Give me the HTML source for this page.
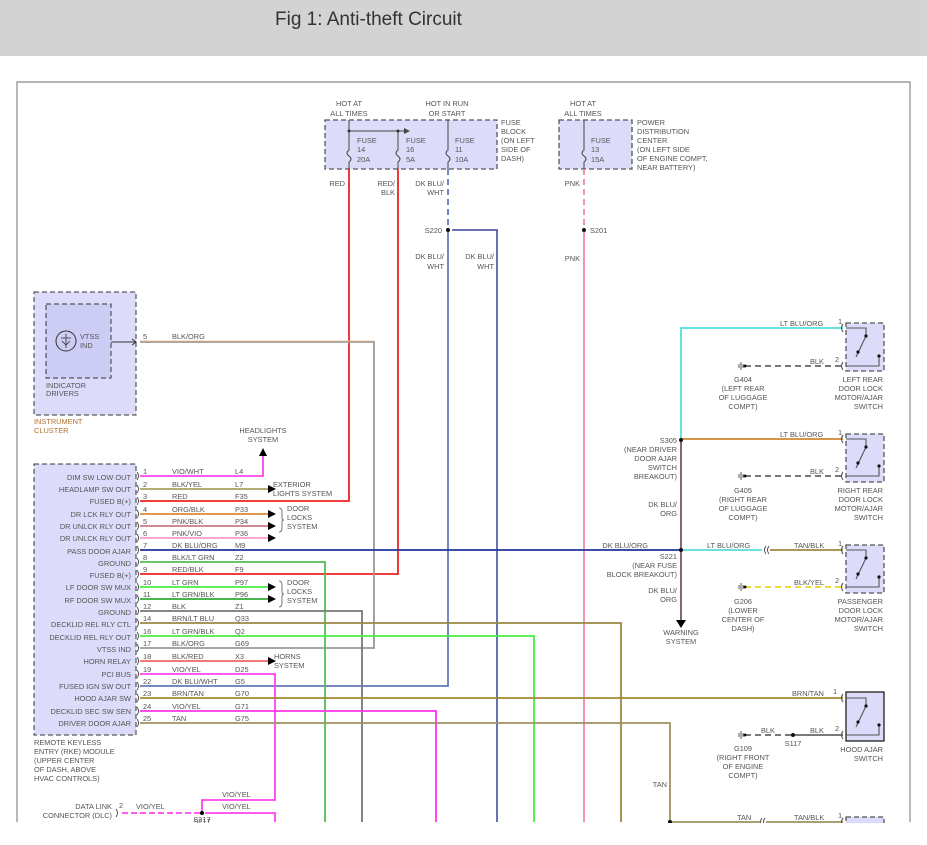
<!DOCTYPE html>
<html><head><meta charset="utf-8"><style>
html,body{margin:0;padding:0;background:#fff;width:927px;height:845px;overflow:hidden}
.hdr{position:absolute;left:0;top:0;width:927px;height:56px;background:#d3d3d3}
.hdr span{position:absolute;left:275px;top:9px;font:19px "Liberation Sans",sans-serif;color:#333}
svg{position:absolute;left:0;top:0}
text{font-family:"Liberation Sans",sans-serif;font-size:7.4px;fill:#555}
.r{text-anchor:end}.m{text-anchor:middle}
</style></head><body>
<div class="hdr"><span>Fig 1: Anti-theft Circuit</span></div>
<svg width="927" height="845" viewBox="0 0 927 845">
<path d="M17,822 V82 H910 V822" fill="none" stroke="#888" stroke-width="1.2"/>

<rect x="34" y="292" width="102" height="123" fill="#dcdcfa" stroke="#333" stroke-dasharray="5,3"/>
<rect x="46" y="304" width="65" height="74" fill="#ccccf5" stroke="#333" stroke-dasharray="5,3"/>
<circle cx="66" cy="341" r="10" fill="none" stroke="#333"/>
<path d="M61,338 H71 M66,334 V348 M62,341 L66,345 L70,341" stroke="#333" fill="none" stroke-width="0.8"/>
<text x="80" y="339">VTSS</text><text x="80" y="348">IND</text>
<text x="46" y="388">INDICATOR</text><text x="46" y="396">DRIVERS</text>
<text x="34" y="424" style="fill:#b07030">INSTRUMENT</text><text x="34" y="433" style="fill:#b07030">CLUSTER</text>
<path d="M111,342 H136" stroke="#333"/>

<rect x="34" y="464" width="102" height="271" fill="#dcdcfa" stroke="#333" stroke-dasharray="5,3"/>
<rect x="325" y="120" width="172" height="49" fill="#dcdcfa" stroke="#555" stroke-dasharray="5,3" stroke-width="1.3"/>
<rect x="559" y="120" width="73" height="49" fill="#dcdcfa" stroke="#555" stroke-dasharray="5,3" stroke-width="1.3"/>

<g stroke="#444" fill="none" stroke-width="1">
<path d="M349,120 V150 q-4,3 0,6 q4,3 0,6 V169"/>
<path d="M398,131 V150 q-4,3 0,6 q4,3 0,6 V169"/>
<path d="M448,120 V150 q-4,3 0,6 q4,3 0,6 V169"/>
<path d="M584,120 V150 q-4,3 0,6 q4,3 0,6 V169"/>
<path d="M349,131 H404"/>
</g>
<path d="M404,128 L410,131 L404,134Z" fill="#444"/>
<g fill="#333"><circle cx="349" cy="131" r="1.5"/><circle cx="398" cy="131" r="1.5"/></g>
<text x="357" y="143">FUSE</text><text x="357" y="152">14</text><text x="357" y="162">20A</text>
<text x="406" y="143">FUSE</text><text x="406" y="152">16</text><text x="406" y="162">5A</text>
<text x="455" y="143">FUSE</text><text x="455" y="152">11</text><text x="455" y="162">10A</text>
<text x="591" y="143">FUSE</text><text x="591" y="152">13</text><text x="591" y="162">15A</text>
<text x="349" y="106" class="m">HOT AT</text><text x="349" y="116" class="m">ALL TIMES</text>
<text x="447" y="106" class="m">HOT IN RUN</text><text x="447" y="116" class="m">OR START</text>
<text x="583" y="106" class="m">HOT AT</text><text x="583" y="116" class="m">ALL TIMES</text>
<text x="501" y="125">FUSE</text><text x="501" y="134">BLOCK</text><text x="501" y="143">(ON LEFT</text><text x="501" y="152">SIDE OF</text><text x="501" y="161">DASH)</text>
<text x="637" y="125">POWER</text><text x="637" y="134">DISTRIBUTION</text><text x="637" y="143">CENTER</text><text x="637" y="152">(ON LEFT SIDE</text><text x="637" y="161">OF ENGINE COMPT,</text><text x="637" y="170">NEAR BATTERY)</text>

<path d="M349,169 V501 H140" stroke="#ee2222" stroke-width="1.8" fill="none"/>
<path d="M398,169 V574 H140" stroke="#ee2222" stroke-width="1.8" fill="none"/>
<path d="M448,169 V230" stroke="#6677bb" stroke-width="1.8" stroke-dasharray="6,4"/>
<path d="M448,230 V686 H140" stroke="#6677bb" stroke-width="1.8" fill="none"/>
<path d="M452,230 H497 V822" stroke="#334499" stroke-width="1.5" fill="none"/>
<path d="M584,169 V230" stroke="#f08aa0" stroke-width="1.8" stroke-dasharray="6,4"/>
<path d="M584,230 V822" stroke="#f08aa0" stroke-width="1.8"/>
<g fill="#111"><circle cx="448" cy="230" r="2"/><circle cx="584" cy="230" r="2"/></g>
<text x="345" y="186" class="r">RED</text>
<text x="395" y="186" class="r">RED/</text><text x="395" y="195" class="r">BLK</text>
<text x="444" y="186" class="r">DK BLU/</text><text x="444" y="195" class="r">WHT</text>
<text x="580" y="186" class="r">PNK</text>
<text x="442" y="233" class="r">S220</text><text x="590" y="233">S201</text>
<text x="444" y="259" class="r">DK BLU/</text><text x="444" y="269" class="r">WHT</text>
<text x="494" y="259" class="r">DK BLU/</text><text x="494" y="269" class="r">WHT</text>
<text x="580" y="261" class="r">PNK</text>

<path d="M140,342 H374 V648 H140" stroke="#999" stroke-width="1.8" fill="none"/>
<path d="M140,341 H374" stroke="#f0b080" stroke-width="0.8"/>
<text x="143" y="339">5</text><text x="172" y="339">BLK/ORG</text>
<path d="M132,339 L136,342 L132,345" stroke="#333" fill="none"/>

<g fill="none" stroke-width="1.8">
<path d="M140,476 H263 V455" stroke="#ff44ee"/>
<path d="M140,489 H268" stroke="#aaa060"/>
<path d="M140,514 H268" stroke="#dd8833"/>
<path d="M140,526 H268" stroke="#cc7788"/>
<path d="M140,538 H268" stroke="#ff99cc"/>
<path d="M140,550 H681" stroke="#223399"/>
<path d="M140,562 H325 V822" stroke="#55bb55"/>
<path d="M140,587 H268" stroke="#44ee44"/>
<path d="M140,599 H268" stroke="#33aa33"/>
<path d="M140,611 H362 V822" stroke="#777"/>
<path d="M140,623 H621 V822" stroke="#998844"/>
<path d="M140,636 H534 V822" stroke="#44ee44"/>
<path d="M140,661 H268" stroke="#ee6666"/>
<path d="M140,674 H275 V800 H202 V813" stroke="#ff44ee"/>
<path d="M140,698 H843" stroke="#a08830"/>
<path d="M140,711 H436 V822" stroke="#ff33ee"/>
<path d="M140,723 H670 V822 H760" stroke="#a09060"/>
<path d="M205,813 H275 V822" stroke="#ff44ee"/>
<path d="M122,813 H200" stroke="#ff44ee" stroke-dasharray="6,3"/>
</g>
<g fill="#000">
<path d="M259,456 L263,448 L267,456Z"/>
<path d="M268,485 L276,489 L268,493Z"/>
<path d="M268,510 L276,514 L268,518Z"/><path d="M268,522 L276,526 L268,530Z"/><path d="M268,534 L276,538 L268,542Z"/>
<path d="M268,583 L276,587 L268,591Z"/><path d="M268,595 L276,599 L268,603Z"/>
<path d="M268,657 L276,661 L268,665Z"/>
<circle cx="202" cy="813" r="2"/>
</g>
<g stroke="#555" fill="none" stroke-width="0.8">
<path d="M279,508 q3,0 3,4 v6 q0,2 2,2 q-2,0 -2,2 v6 q0,4 -3,4"/>
<path d="M279,581 q3,0 3,4 v7 q0,2 2,2 q-2,0 -2,2 v7 q0,4 -3,4"/>
</g>
<text x="263" y="433" class="m">HEADLIGHTS</text><text x="263" y="442" class="m">SYSTEM</text>
<text x="273" y="487">EXTERIOR</text><text x="273" y="496">LIGHTS SYSTEM</text>
<text x="287" y="511">DOOR</text><text x="287" y="520">LOCKS</text><text x="287" y="529">SYSTEM</text>
<text x="287" y="585">DOOR</text><text x="287" y="594">LOCKS</text><text x="287" y="603">SYSTEM</text>
<text x="274" y="659">HORNS</text><text x="274" y="668">SYSTEM</text>

<g>
<text x="131" y="480" class="r">DIM SW LOW OUT</text>
<text x="131" y="492" class="r">HEADLAMP SW OUT</text>
<text x="131" y="504" class="r">FUSED B(+)</text>
<text x="131" y="517" class="r">DR LCK RLY OUT</text>
<text x="131" y="529" class="r">DR UNLCK RLY OUT</text>
<text x="131" y="541" class="r">DR UNLCK RLY OUT</text>
<text x="131" y="554" class="r">PASS DOOR AJAR</text>
<text x="131" y="566" class="r">GROUND</text>
<text x="131" y="578" class="r">FUSED B(+)</text>
<text x="131" y="590" class="r">LF DOOR SW MUX</text>
<text x="131" y="603" class="r">RF DOOR SW MUX</text>
<text x="131" y="615" class="r">GROUND</text>
<text x="131" y="627" class="r">DECKLID REL RLY CTL</text>
<text x="131" y="640" class="r">DECKLID REL RLY OUT</text>
<text x="131" y="652" class="r">VTSS IND</text>
<text x="131" y="664" class="r">HORN RELAY</text>
<text x="131" y="677" class="r">PCI BUS</text>
<text x="131" y="689" class="r">FUSED IGN SW OUT</text>
<text x="131" y="701" class="r">HOOD AJAR SW</text>
<text x="131" y="714" class="r">DECKLID SEC SW SEN</text>
<text x="131" y="726" class="r">DRIVER DOOR AJAR</text>
</g>
<g stroke="#333" fill="none" stroke-width="0.8">
<path d="M137,472 q3,4 0,8"/><path d="M137,485 q3,4 0,8"/><path d="M137,497 q3,4 0,8"/><path d="M137,510 q3,4 0,8"/><path d="M137,522 q3,4 0,8"/><path d="M137,534 q3,4 0,8"/><path d="M137,546 q3,4 0,8"/><path d="M137,558 q3,4 0,8"/><path d="M137,570 q3,4 0,8"/><path d="M137,583 q3,4 0,8"/><path d="M137,595 q3,4 0,8"/><path d="M137,607 q3,4 0,8"/><path d="M137,619 q3,4 0,8"/><path d="M137,632 q3,4 0,8"/><path d="M137,644 q3,4 0,8"/><path d="M137,657 q3,4 0,8"/><path d="M137,670 q3,4 0,8"/><path d="M137,682 q3,4 0,8"/><path d="M137,694 q3,4 0,8"/><path d="M137,707 q3,4 0,8"/><path d="M137,719 q3,4 0,8"/>
<path d="M116,809 q3,4 0,8"/>
</g>
<g>
<text x="143" y="474">1</text><text x="172" y="474">VIO/WHT</text><text x="235" y="474">L4</text>
<text x="143" y="487">2</text><text x="172" y="487">BLK/YEL</text><text x="235" y="487">L7</text>
<text x="143" y="499">3</text><text x="172" y="499">RED</text><text x="235" y="499">F35</text>
<text x="143" y="512">4</text><text x="172" y="512">ORG/BLK</text><text x="235" y="512">P33</text>
<text x="143" y="524">5</text><text x="172" y="524">PNK/BLK</text><text x="235" y="524">P34</text>
<text x="143" y="536">6</text><text x="172" y="536">PNK/VIO</text><text x="235" y="536">P36</text>
<text x="143" y="548">7</text><text x="172" y="548">DK BLU/ORG</text><text x="235" y="548">M9</text>
<text x="143" y="560">8</text><text x="172" y="560">BLK/LT GRN</text><text x="235" y="560">Z2</text>
<text x="143" y="572">9</text><text x="172" y="572">RED/BLK</text><text x="235" y="572">F9</text>
<text x="143" y="585">10</text><text x="172" y="585">LT GRN</text><text x="235" y="585">P97</text>
<text x="143" y="597">11</text><text x="172" y="597">LT GRN/BLK</text><text x="235" y="597">P96</text>
<text x="143" y="609">12</text><text x="172" y="609">BLK</text><text x="235" y="609">Z1</text>
<text x="143" y="621">14</text><text x="172" y="621">BRN/LT BLU</text><text x="235" y="621">Q33</text>
<text x="143" y="634">16</text><text x="172" y="634">LT GRN/BLK</text><text x="235" y="634">Q2</text>
<text x="143" y="646">17</text><text x="172" y="646">BLK/ORG</text><text x="235" y="646">G69</text>
<text x="143" y="659">18</text><text x="172" y="659">BLK/RED</text><text x="235" y="659">X3</text>
<text x="143" y="672">19</text><text x="172" y="672">VIO/YEL</text><text x="235" y="672">D25</text>
<text x="143" y="684">22</text><text x="172" y="684">DK BLU/WHT</text><text x="235" y="684">G5</text>
<text x="143" y="696">23</text><text x="172" y="696">BRN/TAN</text><text x="235" y="696">G70</text>
<text x="143" y="709">24</text><text x="172" y="709">VIO/YEL</text><text x="235" y="709">G71</text>
<text x="143" y="721">25</text><text x="172" y="721">TAN</text><text x="235" y="721">G75</text>
</g>
<text x="34" y="745">REMOTE KEYLESS</text><text x="34" y="754">ENTRY (RKE) MODULE</text><text x="34" y="763">(UPPER CENTER</text><text x="34" y="772">OF DASH, ABOVE</text><text x="34" y="781">HVAC CONTROLS)</text>
<text x="112" y="809" class="r">DATA LINK</text><text x="112" y="818" class="r">CONNECTOR (DLC)</text>
<text x="119" y="808">2</text><text x="136" y="809">VIO/YEL</text>
<text x="222" y="797">VIO/YEL</text><text x="222" y="809">VIO/YEL</text>
<text x="202" y="824" class="m">S217</text>

<g fill="none" stroke-width="1.8">
<path d="M681,440 V328 H843" stroke="#55dddd"/>
<path d="M681,439 H843" stroke="#cc8833"/>
<path d="M681,440 V620" stroke="#775566"/>
<path d="M681,550 H762" stroke="#55dddd"/>
<path d="M770,550 H843" stroke="#a08840"/>
<path d="M745,366 H843" stroke="#666" stroke-dasharray="6,4"/>
<path d="M745,476 H843" stroke="#666" stroke-dasharray="6,4"/>
<path d="M745,587 H843" stroke="#e8d820" stroke-dasharray="6,4"/>
<path d="M745,735 H793" stroke="#666" stroke-dasharray="6,4"/>
<path d="M793,735 H843" stroke="#666"/>
<path d="M766,822 H843" stroke="#a09060"/>
</g>
<path d="M676,620 L681,628 L686,620Z" fill="#000"/>
<g fill="#111"><circle cx="681" cy="440" r="2"/><circle cx="681" cy="550" r="2"/><circle cx="793" cy="735" r="2"/><circle cx="670" cy="822" r="2"/></g>
<g stroke="#333" fill="none" stroke-width="0.8">
<path d="M741,362 v8 M743,364 v4 M739,364 v4"/>
<path d="M741,472 v8 M743,474 v4 M739,474 v4"/>
<path d="M741,583 v8 M743,585 v4 M739,585 v4"/>
<path d="M741,731 v8 M743,733 v4 M739,733 v4"/>
<path d="M766,546 q-3,4 0,8 M769,546 q-3,4 0,8"/>
<path d="M762,818 q-3,4 0,8 M765,818 q-3,4 0,8"/>
</g>
<text x="780" y="326">LT BLU/ORG</text><text x="838" y="324">1</text>
<text x="810" y="364">BLK</text><text x="835" y="362">2</text>
<text x="780" y="437">LT BLU/ORG</text><text x="838" y="435">1</text>
<text x="810" y="474">BLK</text><text x="835" y="472">2</text>
<text x="707" y="548">LT BLU/ORG</text>
<text x="794" y="548">TAN/BLK</text><text x="838" y="546">1</text>
<text x="794" y="585">BLK/YEL</text><text x="835" y="583">2</text>
<text x="792" y="696">BRN/TAN</text><text x="833" y="694">1</text>
<text x="761" y="733">BLK</text><text x="810" y="733">BLK</text><text x="835" y="731">2</text>
<text x="793" y="746" class="m">S117</text>
<text x="737" y="820">TAN</text><text x="794" y="820">TAN/BLK</text><text x="838" y="818">1</text>
<text x="667" y="787" class="r">TAN</text>
<text x="677" y="443" class="r">S305</text><text x="677" y="452" class="r">(NEAR DRIVER</text><text x="677" y="461" class="r">DOOR AJAR</text><text x="677" y="470" class="r">SWITCH</text><text x="677" y="479" class="r">BREAKOUT)</text>
<text x="677" y="507" class="r">DK BLU/</text><text x="677" y="516" class="r">ORG</text>
<text x="648" y="548" class="r">DK BLU/ORG</text>
<text x="677" y="559" class="r">S221</text><text x="677" y="568" class="r">(NEAR FUSE</text><text x="677" y="577" class="r">BLOCK BREAKOUT)</text>
<text x="677" y="593" class="r">DK BLU/</text><text x="677" y="602" class="r">ORG</text>
<text x="681" y="635" class="m">WARNING</text><text x="681" y="644" class="m">SYSTEM</text>
<g>
<text x="743" y="382" class="m">G404</text><text x="743" y="391" class="m">(LEFT REAR</text><text x="743" y="400" class="m">OF LUGGAGE</text><text x="743" y="409" class="m">COMPT)</text>
<text x="743" y="493" class="m">G405</text><text x="743" y="502" class="m">(RIGHT REAR</text><text x="743" y="511" class="m">OF LUGGAGE</text><text x="743" y="520" class="m">COMPT)</text>
<text x="743" y="604" class="m">G206</text><text x="743" y="613" class="m">(LOWER</text><text x="743" y="622" class="m">CENTER OF</text><text x="743" y="631" class="m">DASH)</text>
<text x="743" y="751" class="m">G109</text><text x="743" y="760" class="m">(RIGHT FRONT</text><text x="743" y="769" class="m">OF ENGINE</text><text x="743" y="778" class="m">COMPT)</text>
</g>
<text x="883" y="382" class="r">LEFT REAR</text><text x="883" y="391" class="r">DOOR LOCK</text><text x="883" y="400" class="r">MOTOR/AJAR</text><text x="883" y="409" class="r">SWITCH</text>
<text x="883" y="493" class="r">RIGHT REAR</text><text x="883" y="502" class="r">DOOR LOCK</text><text x="883" y="511" class="r">MOTOR/AJAR</text><text x="883" y="520" class="r">SWITCH</text>
<text x="883" y="604" class="r">PASSENGER</text><text x="883" y="613" class="r">DOOR LOCK</text><text x="883" y="622" class="r">MOTOR/AJAR</text><text x="883" y="631" class="r">SWITCH</text>
<text x="883" y="752" class="r">HOOD AJAR</text><text x="883" y="761" class="r">SWITCH</text>

<g>
<rect x="846" y="323" width="38" height="48" fill="#dcdcfa" stroke="#555" stroke-dasharray="5,3" stroke-width="1.3"/>
<rect x="846" y="434" width="38" height="48" fill="#dcdcfa" stroke="#555" stroke-dasharray="5,3" stroke-width="1.3"/>
<rect x="846" y="545" width="38" height="48" fill="#dcdcfa" stroke="#555" stroke-dasharray="5,3" stroke-width="1.3"/>
<rect x="846" y="692" width="38" height="49" fill="#dcdcfa" stroke="#111" stroke-width="1.2"/>
<rect x="846" y="817" width="38" height="20" fill="#dcdcfa" stroke="#555" stroke-dasharray="5,3" stroke-width="1.3"/>
</g>
<g stroke="#555" fill="none" stroke-width="1.1">
<path d="M846,328 H866 V336 M866,336 L856,357 M846,366 H879 V356"/>
<path d="M846,439 H866 V447 M866,447 L856,468 M846,476 H879 V466"/>
<path d="M846,550 H866 V558 M866,558 L856,579 M846,587 H879 V577"/>
<path d="M846,698 H866 V706 M866,706 L856,727 M846,735 H879 V725"/>
<path d="M843,324 q-3,4 0,8 M843,362 q-3,4 0,8 M843,435 q-3,4 0,8 M843,472 q-3,4 0,8 M843,546 q-3,4 0,8 M843,583 q-3,4 0,8 M843,694 q-3,4 0,8 M843,731 q-3,4 0,8 M843,818 q-3,4 0,8"/>
</g>
<g fill="#111">
<circle cx="866" cy="336" r="1.6"/><circle cx="858" cy="352" r="1.6"/><circle cx="879" cy="356" r="1.6"/>
<circle cx="866" cy="447" r="1.6"/><circle cx="858" cy="463" r="1.6"/><circle cx="879" cy="466" r="1.6"/>
<circle cx="866" cy="558" r="1.6"/><circle cx="858" cy="574" r="1.6"/><circle cx="879" cy="577" r="1.6"/>
<circle cx="866" cy="706" r="1.6"/><circle cx="858" cy="722" r="1.6"/><circle cx="879" cy="725" r="1.6"/>
<circle cx="745" cy="366" r="1.5"/><circle cx="745" cy="476" r="1.5"/><circle cx="745" cy="587" r="1.5"/><circle cx="745" cy="735" r="1.5"/>
</g>
<rect x="0" y="823" width="927" height="22" fill="#fff"/>
<text x="202" y="822" class="m">S217</text>
</svg>
</body></html>
